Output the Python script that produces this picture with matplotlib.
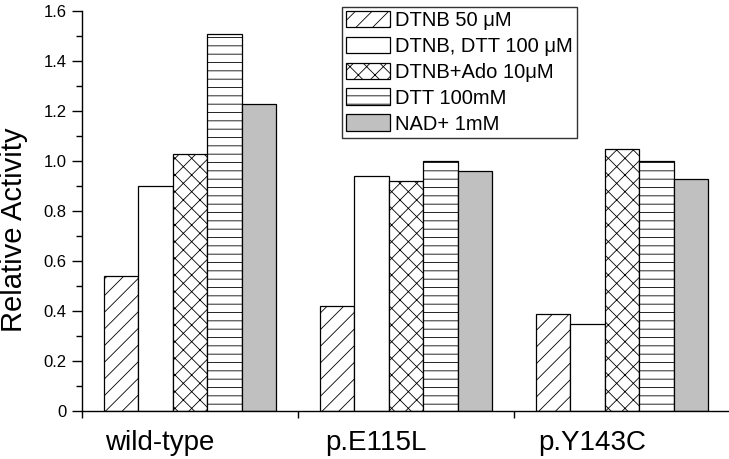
import matplotlib
matplotlib.use("Agg")
import matplotlib.pyplot as plt
import numpy as np
from matplotlib.ticker import MultipleLocator, FuncFormatter

plt.rcParams.update({
    "font.family": ["Liberation Sans", "DejaVu Sans"],
    "hatch.linewidth": 0.6,
})

# ── Data ──────────────────────────────────────────────────────────────────────
groups = ["wild-type", "p.E115L", "p.Y143C"]
series = ["DTNB 50 μM", "DTNB, DTT 100 μM", "DTNB+Ado 10μM", "DTT 100mM", "NAD+ 1mM"]
dtnb_50 = [0.54, 0.42, 0.39]
dtnb_dtt = [0.90, 0.94, 0.35]
dtnb_ado = [1.03, 0.92, 1.05]
dtt_100 = [1.51, 1.00, 1.00]
nad_1 = [1.23, 0.96, 0.93]
values = [dtnb_50, dtnb_dtt, dtnb_ado, dtt_100, nad_1]

hatches = ["//", "", "xx", "--", ""]
faces = ["white", "white", "white", "white", "#c0c0c0"]

fig = plt.figure(figsize=(7.29, 4.59), dpi=100)
ax = fig.add_axes([82 / 729, 48 / 459, 648 / 729, 400 / 459])

x = np.arange(len(groups)) + 0.5
width = 0.16
for i, (vals, lab) in enumerate(zip(values, series)):
    ax.bar(x + (i - 2) * width, vals, width, color=faces[i], edgecolor="black",
           hatch=hatches[i], linewidth=0.9, label=lab)

ax.set_xlim(0, 3)
ax.set_ylim(0, 1.6)
ax.spines["top"].set_visible(False)
ax.spines["right"].set_visible(False)
ax.spines["left"].set_linewidth(1.0)
ax.spines["bottom"].set_linewidth(1.0)

ax.yaxis.set_major_locator(MultipleLocator(0.2))
ax.yaxis.set_minor_locator(MultipleLocator(0.1))
ax.yaxis.set_major_formatter(FuncFormatter(lambda v, p: "0" if abs(v) < 1e-9 else f"{v:.1f}"))
ax.tick_params(axis="y", which="major", direction="out", length=7, width=1,
               labelsize=12, pad=4)
ax.tick_params(axis="y", which="minor", direction="out", length=4, width=1)

# group labels sit a little left of the group centres, as in the original
ax.set_xticks([0, 1, 2, 3])
ax.set_xticklabels([])
ax.set_xticks(x - 0.14, minor=True)
ax.set_xticklabels(groups, minor=True, fontsize=20)
ax.tick_params(axis="x", which="major", direction="out", length=5, width=1)
ax.tick_params(axis="x", which="minor", length=0, pad=14)

ax.set_ylabel("Relative Activity", fontsize=21)
ax.yaxis.set_label_coords(-0.0826, 0.4525)

leg = ax.legend(loc="upper left", bbox_to_anchor=(260 / 648, 1.011), fontsize=14.5,
                frameon=True, fancybox=False, edgecolor="black", handlelength=2.2,
                handleheight=0.9, labelspacing=0.33, borderpad=0.2,
                handletextpad=0.25, borderaxespad=0)
leg.get_frame().set_linewidth(1.0)

fig.savefig("out.png", dpi=100)
